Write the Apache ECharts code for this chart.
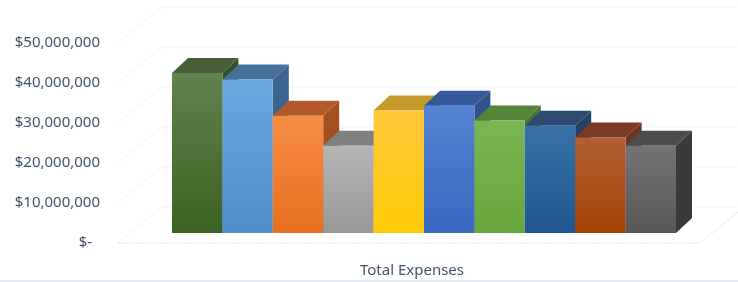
<!DOCTYPE html>
<html>
<head>
<meta charset="utf-8">
<script src="https://cdn.jsdelivr.net/npm/echarts@6/dist/echarts.min.js"></script>
<style>
  html, body { margin: 0; padding: 0; background: #fff; }
  #chart { width: 738px; height: 282px; }
</style>
</head>
<body>
<div id="chart"></div>
<script>
// data
var category = ['Total Expenses'];
var seriesNames = ['Expense 1', 'Expense 2', 'Expense 3', 'Expense 4', 'Expense 5',
                   'Expense 6', 'Expense 7', 'Expense 8', 'Expense 9', 'Expense 10'];
var seriesValues = [40000000, 38400000, 29300000, 21800000, 30600000,
                    31800000, 28100000, 26800000, 23900000, 21800000];
var yTicks = [0, 10000000, 20000000, 30000000, 40000000, 50000000];

// front gradient top, front gradient bottom, top face, side face
var palette = [
  ['#62824c', '#3a6322', '#475f37', '#34502a'],
  ['#6ba7df', '#508ecb', '#44709a', '#3c668e'],
  ['#f68c44', '#e8701f', '#b35a2c', '#a44f20'],
  ['#b6b6b6', '#989898', '#808080', '#747474'],
  ['#ffc83a', '#ffcb05', '#c49a2a', '#ad8820'],
  ['#5682d2', '#3a67c1', '#355a9c', '#2f528d'],
  ['#7ab554', '#67a73d', '#56843a', '#4a7633'],
  ['#3872a6', '#1f568f', '#2d4b72', '#264366'],
  ['#b25f35', '#a34304', '#7c3a22', '#6e331c'],
  ['#747474', '#575757', '#4c4c4c', '#3a3a3a']
];

// oblique offsets (px)
var FRONT = [12, -10];   // bar front face relative to the floor front edge
var DEPTH = [16, -15];   // bar depth
var WALL = [44, -36];    // floor / wall depth
var WALL_LEFT = 42;      // floor front-left corner, left of the bar band
var WALL_RIGHT = 36;     // floor front-right corner, right of the bar band

var chart = echarts.init(document.getElementById('chart'));

function money(v) {
  if (v === 0) return '$-  ';
  return '$' + v.toLocaleString('en-US');
}

function renderWalls(params, api) {
  var v = api.value(0);
  var p = api.coord([0, v]);
  var half = api.size([1, 0])[0] / 2;
  var xl = p[0] - half - WALL_LEFT;
  var xr = api.coord([seriesValues.length - 1, v])[0] + half + WALL_RIGHT;
  var y = p[1];
  var children = [{
    type: 'polyline',
    shape: { points: [[xl, y], [xl + WALL[0], y + WALL[1]], [740, y + WALL[1]]] },
    style: { stroke: '#eaedf1', lineWidth: 1, fill: null, lineDash: [2, 1] }
  }];
  if (v === 0) {
    children.push({
      type: 'polyline',
      shape: { points: [[xl, y], [xr, y], [xr + WALL[0], y + WALL[1]]] },
      style: { stroke: '#dde2ea', lineWidth: 1, fill: null, lineDash: [2, 1] }
    });
  }
  return { type: 'group', children: children };
}

function renderBar(params, api) {
  var i = params.dataIndex;
  var top = api.coord([i, api.value(1)]);
  var base = api.coord([i, 0]);
  var w = api.size([1, 0])[0];
  var x0 = top[0] - w / 2 + FRONT[0];
  var x1 = top[0] + w / 2 + FRONT[0];
  var yT = top[1] + FRONT[1];
  var yB = base[1] + FRONT[1];
  var c = palette[i];
  return {
    type: 'group',
    children: [{
      type: 'polygon',
      shape: { points: [[x1, yT], [x1 + DEPTH[0], yT + DEPTH[1]], [x1 + DEPTH[0], yB + DEPTH[1]], [x1, yB]] },
      style: { fill: c[3] }
    }, {
      type: 'polygon',
      shape: { points: [[x0, yT], [x1, yT], [x1 + DEPTH[0], yT + DEPTH[1]], [x0 + DEPTH[0], yT + DEPTH[1]]] },
      style: { fill: c[2] }
    }, {
      type: 'rect',
      shape: { x: x0, y: yT, width: x1 - x0, height: yB - yT },
      style: {
        fill: new echarts.graphic.LinearGradient(0, 0, 0, 1, [
          { offset: 0, color: c[0] },
          { offset: 1, color: c[1] }
        ])
      }
    }]
  };
}

var option = {
  backgroundColor: '#ffffff',
  animation: false,
  grid: { left: 160, right: 74, top: 43, bottom: 39 },
  xAxis: [{
    type: 'category',
    data: seriesNames,
    show: false
  }, {
    type: 'category',
    data: category,
    position: 'bottom',
    axisLine: { show: false },
    axisTick: { show: false },
    axisLabel: {
      margin: 20,
      fontFamily: 'Noto Sans',
      fontSize: 15,
      color: '#44546a'
    }
  }],
  yAxis: {
    type: 'value',
    min: 0,
    max: 50000000,
    interval: 10000000,
    axisLine: { show: false },
    axisTick: { show: false },
    splitLine: { show: false },
    axisLabel: {
      margin: 60,
      fontFamily: 'Noto Sans',
      fontSize: 15,
      color: '#44546a',
      formatter: money
    }
  },
  series: [{
    name: 'walls',
    type: 'custom',
    silent: true,
    renderItem: renderWalls,
    data: yTicks.map(function (v) { return [v]; }),
    encode: { y: 0 }
  }, {
    name: 'Total Expenses',
    type: 'custom',
    renderItem: renderBar,
    data: seriesValues.map(function (v, i) { return [i, v]; }),
    encode: { x: 0, y: 1 }
  }],
  graphic: [{
    type: 'rect',
    shape: { x: 0, y: 280, width: 738, height: 2 },
    style: { fill: '#e4e9ef' }
  }]
};

chart.setOption(option);
</script>
</body>
</html>
